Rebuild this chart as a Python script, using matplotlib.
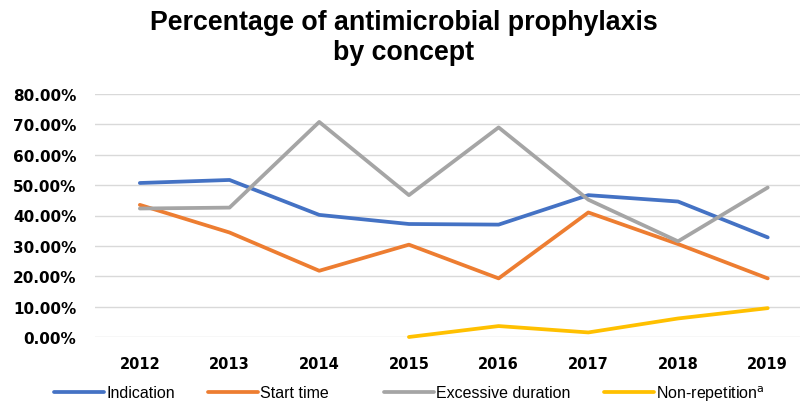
import numpy as np
import matplotlib.pyplot as plt
from matplotlib.ticker import PercentFormatter

# data
years = [2012, 2013, 2014, 2015, 2016, 2017, 2018, 2019]
indication = [50.7, 51.7, 40.2, 37.2, 37.0, 46.7, 44.6, 32.8]
start_time = [43.5, 34.4, 21.8, 30.4, 19.3, 41.0, 30.6, 19.3]
excessive = [42.3, 42.6, 70.8, 46.7, 69.0, 45.2, 31.5, 49.2]
years_nr = [2015, 2016, 2017, 2018, 2019]
non_repetition = [0.0, 3.6, 1.5, 6.1, 9.5]

labels = ['Indication', 'Start time', 'Excessive duration', 'Non-repetition$^{\\mathrm{a}}$']
colors = ['#4472C4', '#ED7D31', '#A5A5A5', '#FFC000']
legend_x = [53, 207, 383, 603]   # left edge of each legend entry, px

fig = plt.figure(figsize=(8, 4.14), dpi=100)
ax = fig.add_axes([95/800, 76/414, 705/800, 243/414])

x = np.arange(len(years))
xnr = np.array([years.index(y) for y in years_nr])
series = [(x, indication), (x, start_time), (x, excessive), (xnr, non_repetition)]
handles = []
for (xx, vals), lab, c in zip(series, labels, colors):
    h, = ax.plot(xx, np.array(vals) / 100, color=c, lw=2.7, label=lab,
                 solid_capstyle='round', clip_on=False)
    handles.append(h)

ax.set_ylim(0, 0.8)
ax.set_xlim(-0.5, len(years) - 1 + 0.36)
ax.set_yticks(np.arange(0, 0.81, 0.1))
ax.yaxis.set_major_formatter(PercentFormatter(1.0, decimals=2))
ax.set_xticks(x)
ax.set_xticklabels([str(y) for y in years])
ax.grid(axis='y', color='#D9D9D9', lw=1)
ax.set_axisbelow(True)
for s in ax.spines.values():
    s.set_visible(False)
ax.tick_params(length=0, labelsize=11)
ax.tick_params(axis='y', pad=13.5)
ax.tick_params(axis='x', pad=14, labelsize=10.5)
for t in ax.get_xticklabels() + ax.get_yticklabels():
    t.set_fontweight('bold')

fig.text(0.505, 1 - 38 / 414, 'Percentage of antimicrobial prophylaxis\nby concept',
         ha='center', va='center', fontsize=19.3, fontweight='bold',
         family=['Liberation Sans', 'DejaVu Sans'], linespacing=1.22)

# legend, one entry at a time like Excel places them
for h, lx in zip(handles, legend_x):
    fig.legend([h], [h.get_label()], loc='center left',
               bbox_to_anchor=((lx - 13) / 800, 1 - 394 / 414),
               frameon=False, handlelength=3.1, handletextpad=0.15,
               prop={'family': ['Liberation Sans', 'DejaVu Sans'], 'size': 11.5})

plt.savefig('out.png', dpi=100)
